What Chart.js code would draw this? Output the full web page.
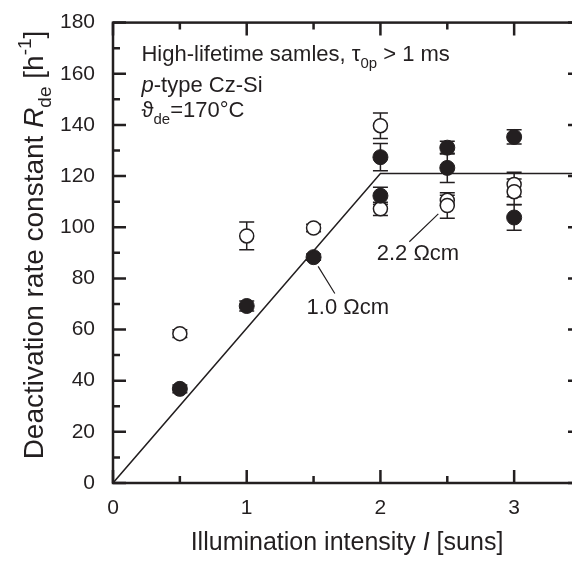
<!DOCTYPE html>
<html>
<head>
<meta charset="utf-8">
<script src="https://cdn.jsdelivr.net/npm/chart.js@4.4.1/dist/chart.umd.min.js"></script>
<style>
  html, body { margin: 0; padding: 0; background: #fff; overflow: hidden; }
  #wrap { width: 600px; height: 567px; }
</style>
</head>
<body>
<div id="wrap"><canvas id="chart" width="600" height="567"></canvas></div>
<script>
// illumination intensity (suns) and deactivation rate constant (1/h)
const filledX = [0.5, 1, 1.5, 2, 2, 2.5, 2.5, 3, 3];
const filledY = [36.8, 69.2, 88.3, 127.4, 112.3, 131.1, 123.2, 135.3, 103.8];
const filledErr = [1.5, 2, 1.2, 5.3, 3.3, 2.5, 5.7, 2.8, 5];

const openX = [0.5, 1, 1.5, 2, 2, 2.5, 2.5, 3, 3];
const openY = [58.4, 96.6, 99.7, 139.7, 107.2, 110.5, 108.5, 116.7, 113.9];
const openErr = [1.5, 5.4, 1.5, 5, 2.6, 2, 5, 4.8, 5];

// fitted saturation line
const fitX = [0, 2, 3.5];
const fitY = [0, 121, 121];

const xTicks = [0, 1, 2, 3];
const xMinor = [0.5, 1.5, 2.5];
const yTicks = [0, 20, 40, 60, 80, 100, 120, 140, 160, 180];
const yMinor = [10, 30, 50, 70, 90, 110, 130, 150, 170];

const INK = '#231f20';
const FONT = '"Liberation Sans", Arial, sans-serif';

const toPts = (xs, ys) => xs.map((x, i) => ({ x: x, y: ys[i] }));

// draw text made of parts (italic / subscript / superscript)
function drawRich(ctx, parts, x, y, size, align) {
    let total = 0;
    const items = parts.map(p => {
        const s = (p.sub || p.sup) ? size * 0.68 : size;
        const font = (p.italic ? 'italic ' : '') + s + 'px ' + FONT;
        ctx.font = font;
        const width = ctx.measureText(p.t).width;
        const dy = p.sub ? size * 0.3 : (p.sup ? -size * 0.42 : 0);
        total += width;
        return { t: p.t, font: font, width: width, dy: dy };
    });
    let cx = align === 'center' ? x - total / 2 : x;
    ctx.textAlign = 'left';
    ctx.textBaseline = 'alphabetic';
    ctx.fillStyle = INK;
    items.forEach(it => {
        ctx.font = it.font;
        ctx.fillText(it.t, cx, y + it.dy);
        cx += it.width;
    });
}

// vertical error bars behind the markers
const errorBars = {
    id: 'errorBars',
    beforeDatasetsDraw(chart) {
        const ctx = chart.ctx;
        const xs = chart.scales.x, ys = chart.scales.y;
        ctx.save();
        ctx.strokeStyle = INK;
        ctx.lineWidth = 1.5;
        chart.data.datasets.forEach(ds => {
            if (!ds.err) return;
            ds.data.forEach((p, i) => {
                const px = xs.getPixelForValue(p.x);
                const top = ys.getPixelForValue(p.y + ds.err[i]);
                const bot = ys.getPixelForValue(p.y - ds.err[i]);
                ctx.beginPath();
                ctx.moveTo(px, top); ctx.lineTo(px, bot);
                ctx.moveTo(px - 7.5, top); ctx.lineTo(px + 7.5, top);
                ctx.moveTo(px - 7.5, bot); ctx.lineTo(px + 7.5, bot);
                ctx.stroke();
            });
        });
        ctx.restore();
    }
};

// frame with inward ticks on all four sides, plus annotations
const frame = {
    id: 'frame',
    afterDatasetsDraw(chart) {
        const ctx = chart.ctx;
        const a = chart.chartArea;
        const xs = chart.scales.x, ys = chart.scales.y;
        ctx.save();
        ctx.strokeStyle = INK;
        ctx.lineWidth = 2.5;
        ctx.strokeRect(a.left, a.top, a.right - a.left, a.bottom - a.top);

        const tickX = (v, len) => {
            const px = xs.getPixelForValue(v);
            ctx.moveTo(px, a.bottom); ctx.lineTo(px, a.bottom - len);
            ctx.moveTo(px, a.top); ctx.lineTo(px, a.top + len);
        };
        const tickY = (v, len) => {
            const py = ys.getPixelForValue(v);
            ctx.moveTo(a.left, py); ctx.lineTo(a.left + len, py);
            ctx.moveTo(a.right, py); ctx.lineTo(a.right - len, py);
        };
        ctx.beginPath();
        xTicks.forEach(v => tickX(v, 13));
        xMinor.forEach(v => tickX(v, 7));
        yTicks.forEach(v => tickY(v, 13));
        yMinor.forEach(v => tickY(v, 7));
        ctx.stroke();

        // leader lines for the resistivity labels
        ctx.lineWidth = 1.2;
        ctx.beginPath();
        ctx.moveTo(xs.getPixelForValue(1.534), ys.getPixelForValue(84.7));
        ctx.lineTo(xs.getPixelForValue(1.659), ys.getPixelForValue(74.1));
        ctx.moveTo(xs.getPixelForValue(2.433), ys.getPixelForValue(105.2));
        ctx.lineTo(xs.getPixelForValue(2.216), ys.getPixelForValue(94.3));
        ctx.stroke();
        ctx.restore();
    },
    afterDraw(chart) {
        const ctx = chart.ctx;
        const a = chart.chartArea;
        const xs = chart.scales.x, ys = chart.scales.y;
        ctx.save();
        const X = v => xs.getPixelForValue(v);
        const Y = v => ys.getPixelForValue(v);

        drawRich(ctx, [{ t: 'High-lifetime samles, ' }, { t: 'τ' }, { t: '0p', sub: true }, { t: ' > 1 ms' }],
            X(0.213), Y(164.9), 22, 'left');
        drawRich(ctx, [{ t: 'p', italic: true }, { t: '-type Cz-Si' }], X(0.213), Y(152.9), 22, 'left');
        drawRich(ctx, [{ t: 'ϑ' }, { t: 'de', sub: true }, { t: '=170°C' }], X(0.213), Y(143), 22, 'left');

        drawRich(ctx, [{ t: '1.0 Ωcm' }], X(1.448), Y(65.9), 22, 'left');
        drawRich(ctx, [{ t: '2.2 Ωcm' }], X(1.972), Y(87), 22, 'left');

        // axis titles
        drawRich(ctx, [{ t: 'Illumination intensity ' }, { t: 'I', italic: true }, { t: ' [suns]' }],
            (a.left + a.right) / 2, 550, 25, 'center');
        ctx.translate(43, 245);
        ctx.rotate(-Math.PI / 2);
        drawRich(ctx, [{ t: 'Deactivation rate constant ' }, { t: 'R', italic: true }, { t: 'de', sub: true },
            { t: ' [h' }, { t: '-1', sup: true }, { t: ']' }], 0, 0, 28, 'center');
        ctx.restore();
    }
};

new Chart(document.getElementById('chart'), {
    type: 'scatter',
    data: {
        datasets: [
            {
                type: 'line',
                data: toPts(fitX, fitY),
                borderColor: INK,
                borderWidth: 1.5,
                pointRadius: 0,
                tension: 0,
                fill: false
            },
            {
                data: toPts(filledX, filledY),
                err: filledErr,
                pointRadius: 7.5,
                pointBackgroundColor: INK,
                pointBorderColor: INK,
                pointBorderWidth: 1
            },
            {
                data: toPts(openX, openY),
                err: openErr,
                pointRadius: 7,
                pointBackgroundColor: '#ffffff',
                pointBorderColor: INK,
                pointBorderWidth: 1.5
            }
        ]
    },
    options: {
        responsive: false,
        animation: false,
        layout: { padding: { left: 0, top: 16, right: 19, bottom: 0 } },
        plugins: { legend: { display: false }, tooltip: { enabled: false } },
        scales: {
            x: {
                type: 'linear',
                min: 0,
                max: 3.5,
                grid: { display: false },
                border: { display: false },
                afterBuildTicks: s => { s.ticks = xTicks.map(v => ({ value: v })); },
                afterFit: s => { s.height = 84; },
                ticks: { color: INK, font: { family: FONT, size: 21 }, padding: 5, maxRotation: 0 }
            },
            y: {
                min: 0,
                max: 180,
                grid: { display: false },
                border: { display: false },
                afterBuildTicks: s => { s.ticks = yTicks.map(v => ({ value: v })); },
                afterFit: s => { s.width = 113; },
                ticks: { color: INK, font: { family: FONT, size: 21 }, padding: 10 }
            }
        }
    },
    plugins: [errorBars, frame]
});
</script>
</body>
</html>
